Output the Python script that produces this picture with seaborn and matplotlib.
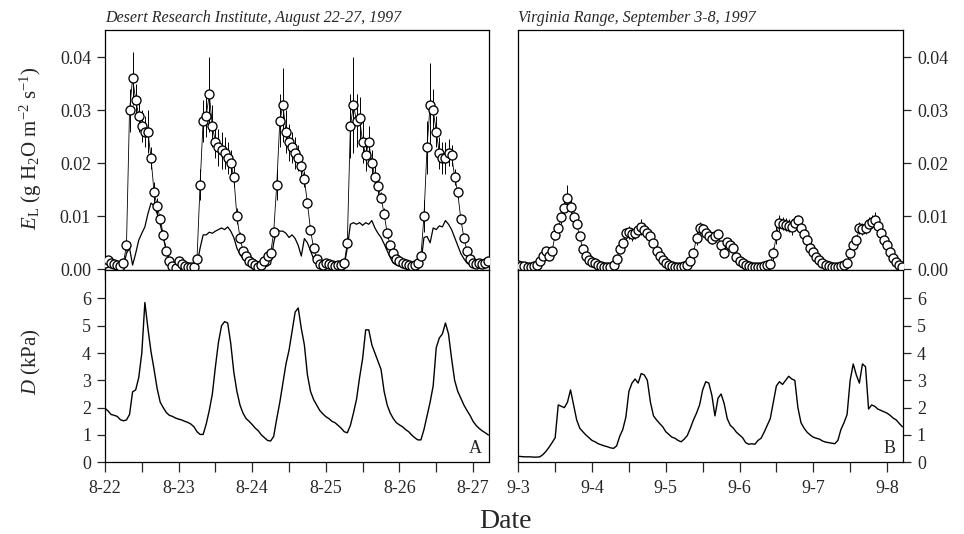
import numpy as np
import pandas as pd
import matplotlib
matplotlib.use("Agg")
import matplotlib.pyplot as plt
import seaborn as sns

# ---------------- data (hourly readings, hour 0 = midnight of first date) ----------------
hours = list(range(126))

# Panel A: Desert Research Institute, Aug 22-27, 1997
el_a = [0.0012, 0.0018, 0.0012, 0.0010, 0.0008, 0.0006, 0.0012, 0.0045, 0.030, 0.036, 0.032, 0.029,
        0.027, 0.026, 0.026, 0.021, 0.0145, 0.012, 0.0095, 0.0065, 0.0035, 0.0015, 0.0006, 0.0003,
        0.0015, 0.0010, 0.0006, 0.0005, 0.0005, 0.0004, 0.002, 0.016, 0.028, 0.029, 0.033, 0.027,
        0.024, 0.023, 0.0225, 0.022, 0.021, 0.020, 0.0175, 0.010, 0.006, 0.0035, 0.0025, 0.0015,
        0.0012, 0.0008, 0.0005, 0.0008, 0.0015, 0.0025, 0.003, 0.007, 0.016, 0.028, 0.031, 0.026,
        0.024, 0.023, 0.022, 0.021, 0.0195, 0.017, 0.0125, 0.0075, 0.004, 0.002, 0.001, 0.0008,
        0.0012, 0.0010, 0.0008, 0.0006, 0.0008, 0.0008, 0.0012, 0.005, 0.027, 0.031, 0.028, 0.0285,
        0.024, 0.0215, 0.024, 0.020, 0.0175, 0.0158, 0.0135, 0.0105, 0.0068, 0.0045, 0.003, 0.002,
        0.0015, 0.0012, 0.0010, 0.0008, 0.0006, 0.0008, 0.0012, 0.0025, 0.010, 0.023, 0.031, 0.030,
        0.026, 0.022, 0.021, 0.021, 0.022, 0.0215, 0.0175, 0.0145, 0.0095, 0.006, 0.0035, 0.002,
        0.0012, 0.0010, 0.0012, 0.0010, 0.0012, 0.0015]
el_a_err = [0.0003] * 7 + [0.001, 0.004, 0.005, 0.003, 0.003, 0.003, 0.003, 0.004, 0.002, 0.002,
            0.0015, 0.001, 0.001, 0.0008, 0.0005, 0.0003, 0.0003] + \
           [0.0003] * 6 + [0.0005, 0.003, 0.004, 0.004, 0.007, 0.004, 0.003, 0.0035, 0.0035, 0.003,
            0.003, 0.0025, 0.002, 0.0015, 0.001, 0.0008, 0.0005, 0.0003] + \
           [0.0003] * 6 + [0.0005, 0.001, 0.003, 0.005, 0.007, 0.004, 0.0035, 0.003, 0.003, 0.0025,
            0.002, 0.0015, 0.001, 0.0008, 0.0005, 0.0003, 0.0003, 0.0003] + \
           [0.0003] * 7 + [0.001, 0.006, 0.009, 0.005, 0.004, 0.004, 0.003, 0.003, 0.0025, 0.002,
            0.0015, 0.001, 0.001, 0.0008, 0.0005, 0.0003, 0.0003] + \
           [0.0003] * 7 + [0.0008, 0.003, 0.005, 0.008, 0.004, 0.003, 0.003, 0.003, 0.003, 0.0025,
            0.002, 0.0015, 0.001, 0.0008, 0.0005, 0.0003, 0.0003] + [0.0003] * 6
low_a = [0.0005] * 7 + [0.003, 0.004, 0.0008, 0.003, 0.0055, 0.0068, 0.008, 0.0105, 0.0125, 0.012,
         0.0105, 0.0085, 0.006, 0.0035, 0.0018, 0.001, 0.0008] + \
        [0.0006, 0.0005, 0.0005, 0.0005, 0.0005, 0.0005, 0.0008, 0.004, 0.0065, 0.0065, 0.007, 0.0068,
         0.0072, 0.0075, 0.0078, 0.0075, 0.008, 0.0072, 0.006, 0.004, 0.0028, 0.002, 0.0015, 0.001] + \
        [0.0006, 0.0005, 0.0005, 0.0005, 0.0005, 0.0006, 0.001, 0.005, 0.0075, 0.0072, 0.0072, 0.0068,
         0.006, 0.0065, 0.0058, 0.0045, 0.0025, 0.0058, 0.005, 0.0035, 0.002, 0.001, 0.0005, 0.0004] + \
        [0.0006, 0.0005, 0.0005, 0.0005, 0.0005, 0.0005, 0.0008, 0.004, 0.0085, 0.0088, 0.0085, 0.0088,
         0.0083, 0.0088, 0.0085, 0.0092, 0.0078, 0.0068, 0.006, 0.0048, 0.0035, 0.0022, 0.0012, 0.0008] + \
        [0.0006, 0.0005, 0.0005, 0.0005, 0.0005, 0.0005, 0.0006, 0.0012, 0.006, 0.0062, 0.005, 0.0078,
         0.0075, 0.0082, 0.008, 0.0092, 0.0085, 0.0075, 0.006, 0.0045, 0.003, 0.002, 0.0012, 0.0008] + \
        [0.0006, 0.0005, 0.0005, 0.0005, 0.0005, 0.0006]
d_a = [1.98, 1.88, 1.75, 1.72, 1.68, 1.56, 1.52, 1.55, 1.75, 2.58, 2.65, 3.1, 4.0, 5.85, 4.9, 4.05,
       3.4, 2.7, 2.2, 2.0, 1.82, 1.72, 1.68, 1.62,
       1.58, 1.55, 1.5, 1.46, 1.4, 1.3, 1.12, 1.02, 1.02, 1.4, 1.9, 2.5, 3.5, 4.4, 5.0, 5.15,
       5.1, 4.35, 3.3, 2.6, 2.1, 1.8, 1.6, 1.5,
       1.38, 1.25, 1.15, 1.0, 0.9, 0.8, 0.78, 0.95, 1.6, 2.2, 2.9, 3.6, 4.1, 4.8, 5.5, 5.65,
       4.9, 4.3, 3.2, 2.6, 2.3, 2.1, 1.9, 1.78,
       1.67, 1.6, 1.5, 1.45, 1.35, 1.25, 1.12, 1.08, 1.35, 1.8, 2.3, 3.1, 3.8, 4.85, 4.85, 4.3,
       4.0, 3.7, 3.4, 2.6, 2.1, 1.8, 1.6, 1.45,
       1.37, 1.3, 1.2, 1.12, 1.0, 0.9, 0.82, 0.82, 1.2, 1.7, 2.2, 2.8, 4.2, 4.55, 4.7, 5.1,
       4.7, 3.8, 3.0, 2.6, 2.35, 2.1, 1.9, 1.72,
       1.5, 1.35, 1.24, 1.15, 1.08, 1.0]

# Panel B: Virginia Range, Sep 3-8, 1997
el_b = [0.0008, 0.0007, 0.0006, 0.0005, 0.0005, 0.0006, 0.0008, 0.0015, 0.0025, 0.0035, 0.0025, 0.0035,
        0.0065, 0.0078, 0.0098, 0.0115, 0.0135, 0.0118, 0.0098, 0.0085, 0.0062, 0.0038, 0.0025, 0.0018,
        0.0014, 0.0012, 0.0008, 0.0006, 0.0005, 0.0005, 0.0005, 0.0008, 0.002, 0.0038, 0.005, 0.0068,
        0.007, 0.0066, 0.0068, 0.0075, 0.008, 0.0075, 0.0068, 0.0062, 0.005, 0.0034, 0.0025, 0.0018,
        0.0012, 0.0008, 0.0006, 0.0005, 0.0005, 0.0005, 0.0006, 0.0008, 0.0015, 0.003, 0.006, 0.0078,
        0.0076, 0.0068, 0.0062, 0.0058, 0.0062, 0.0066, 0.0045, 0.003, 0.0052, 0.0045, 0.004, 0.0024,
        0.0015, 0.0011, 0.0008, 0.0006, 0.0005, 0.0005, 0.0005, 0.0005, 0.0006, 0.0008, 0.001, 0.003,
        0.0065, 0.0087, 0.0086, 0.0084, 0.0082, 0.008, 0.0088, 0.0093, 0.0078, 0.0066, 0.0055, 0.004,
        0.0033, 0.0024, 0.0018, 0.0012, 0.0008, 0.0006, 0.0005, 0.0005, 0.0005, 0.0006, 0.0008, 0.0011,
        0.003, 0.0045, 0.0055, 0.0078, 0.0076, 0.0078, 0.0086, 0.009, 0.0093, 0.0082, 0.0068, 0.0055,
        0.0045, 0.0033, 0.0022, 0.0014, 0.0008, 0.0005]
el_b_err = [0.0003] * 8 + [0.0006, 0.0008, 0.0008, 0.0008, 0.001, 0.001, 0.0012, 0.0015, 0.0025,
            0.0012, 0.001, 0.0008, 0.0006, 0.0005, 0.0004, 0.0003] + \
           [0.0003] * 8 + [0.0006, 0.0008, 0.0008, 0.001, 0.0012, 0.0012, 0.001, 0.0012, 0.0015,
            0.0012, 0.001, 0.0008, 0.0006, 0.0005, 0.0004, 0.0003] + \
           [0.0003] * 8 + [0.0006, 0.001, 0.0015, 0.0012, 0.001, 0.001, 0.001, 0.001, 0.001,
            0.0008, 0.0008, 0.0006, 0.0005, 0.0004, 0.0003, 0.0003] + \
           [0.0003] * 10 + [0.0008, 0.0012, 0.0018, 0.0015, 0.0012, 0.0012, 0.0012, 0.0015, 0.0012,
            0.001, 0.0008, 0.0006, 0.0004, 0.0003] + \
           [0.0003] * 12 + [0.0008, 0.001, 0.001, 0.0012, 0.0012, 0.0012, 0.0012, 0.0012, 0.0015,
            0.001, 0.0008, 0.0006] + [0.0004, 0.0004, 0.0003, 0.0003, 0.0003, 0.0003]
d_b = [0.22, 0.21, 0.2, 0.2, 0.2, 0.19, 0.19, 0.2, 0.28, 0.4, 0.55, 0.72, 0.9, 2.1, 2.05, 2.0,
       2.2, 2.65, 2.1, 1.55, 1.25, 1.12, 1.0, 0.9,
       0.8, 0.75, 0.68, 0.64, 0.6, 0.57, 0.53, 0.51, 0.6, 0.95, 1.2, 1.65, 2.6, 2.9, 3.05, 2.9,
       3.25, 3.2, 3.0, 2.2, 1.7, 1.55, 1.42, 1.3,
       1.12, 1.02, 0.92, 0.88, 0.8, 0.75, 0.85, 0.98, 1.25, 1.55, 1.8, 2.1, 2.65, 2.95, 2.9, 2.45,
       1.7, 2.35, 2.5, 2.15, 1.6, 1.35, 1.25, 1.1,
       1.0, 0.9, 0.72, 0.66, 0.68, 0.66, 0.8, 0.88, 1.1, 1.35, 1.6, 2.2, 2.8, 2.95, 2.85, 3.0,
       3.15, 3.05, 3.0, 2.0, 1.45, 1.25, 1.1, 1.0,
       0.92, 0.88, 0.85, 0.78, 0.74, 0.72, 0.7, 0.68, 0.8, 1.2, 1.45, 1.75, 3.0, 3.6, 3.2, 2.9,
       3.6, 3.5, 1.95, 2.1, 2.05, 1.95, 1.9, 1.85,
       1.8, 1.72, 1.62, 1.55, 1.42, 1.3]

labels_a = ["8-22", "8-23", "8-24", "8-25", "8-26", "8-27"]
labels_b = ["9-3", "9-4", "9-5", "9-6", "9-7", "9-8"]
el_ticks = [0.00, 0.01, 0.02, 0.03, 0.04]
d_ticks = [0, 1, 2, 3, 4, 5, 6]

# ---------------- style ----------------
sns.set_style("ticks")
plt.rcParams["font.family"] = ["Liberation Serif", "DejaVu Serif"]
plt.rcParams["mathtext.fontset"] = "custom"
plt.rcParams["mathtext.rm"] = "Liberation Serif"
plt.rcParams["mathtext.it"] = "Liberation Serif:italic"
plt.rcParams["axes.linewidth"] = 0.9

W, H = 964, 534
fig = plt.figure(figsize=(W / 100, H / 100), dpi=100)


def frac(x0, y0, x1, y1):
    return [x0 / W, 1 - y1 / H, (x1 - x0) / W, (y1 - y0) / H]


ax_ta = fig.add_axes(frac(105, 30, 489, 270))
ax_ba = fig.add_axes(frac(105, 270, 489, 462.3))
ax_tb = fig.add_axes(frac(518.3, 30, 903, 270))
ax_bb = fig.add_axes(frac(518.3, 270, 903, 462.3))

XMAX = 125.2
TICKFS = 13


def style_axis(ax, right=False, ticks=None, fmt="{:.2f}", ylim=None, xlabels=None):
    ax.set_xlim(0, XMAX)
    ax.set_ylim(*ylim)
    ax.set_xticks(np.arange(0, 126, 24))
    ax.set_xticks(np.arange(12, 126, 24), minor=True)
    if xlabels is None:
        ax.set_xticklabels([])
    else:
        ax.set_xticklabels(xlabels, fontsize=TICKFS)
    ax.set_yticks(ticks)
    ax.set_yticklabels([fmt.format(t) for t in ticks], fontsize=TICKFS)
    ax.tick_params(axis="x", which="both", direction="out", length=7, width=0.9, pad=6)
    ax.tick_params(axis="y", which="both", direction="out", length=6, width=0.9, pad=4)
    if right:
        ax.yaxis.tick_right()
    for s in ax.spines.values():
        s.set_visible(True)
        s.set_color("black")
        s.set_linewidth(0.9)
    ax.set_xlabel("")
    ax.set_ylabel("")


for ax, el, err, low in [(ax_ta, el_a, el_a_err, low_a), (ax_tb, el_b, el_b_err, None)]:
    ax.errorbar(hours, el, yerr=err, fmt="none", ecolor="black", elinewidth=0.7, zorder=2)
    if low is not None:
        sns.lineplot(x=hours, y=low, ax=ax, color="black", linewidth=0.9, zorder=3)
    sns.lineplot(x=hours, y=el, ax=ax, color="black", linewidth=0.6, marker="o",
                 markersize=6.5, markerfacecolor="white", markeredgecolor="black",
                 markeredgewidth=0.95, zorder=4)

sns.lineplot(x=hours, y=d_a, ax=ax_ba, color="black", linewidth=1.0)
sns.lineplot(x=hours, y=d_b, ax=ax_bb, color="black", linewidth=1.0)

style_axis(ax_ta, ticks=el_ticks, ylim=(-0.00013, 0.04515))
style_axis(ax_tb, right=True, ticks=el_ticks, ylim=(-0.00013, 0.04515))
style_axis(ax_ba, ticks=d_ticks, fmt="{:d}", ylim=(0, 7.04), xlabels=labels_a)
style_axis(ax_bb, right=True, ticks=d_ticks, fmt="{:d}", ylim=(0, 7.04), xlabels=labels_b)

ax_ba.text(0.965, 0.025, "A", transform=ax_ba.transAxes, fontsize=13, ha="center", va="bottom")
ax_bb.text(0.965, 0.025, "B", transform=ax_bb.transAxes, fontsize=13, ha="center", va="bottom")

fig.text(105 / W, 1 - 18 / H, "Desert Research Institute, August 22-27, 1997",
         style="italic", fontsize=11.5, ha="left", va="center")
fig.text(518 / W, 1 - 18 / H, "Virginia Range, September 3-8, 1997",
         style="italic", fontsize=11.5, ha="left", va="center")
fig.text(505 / W, 1 - 521 / H, "Date", fontsize=20, ha="center", va="center")
fig.text(31 / W, 1 - 148 / H, r"$E_{\mathrm{L}}$ (g H$_2$O m$^{-2}$ s$^{-1}$)",
         fontsize=15, rotation=90, ha="center", va="center")
fig.text(31 / W, 1 - 362 / H, r"$D$ (kPa)", fontsize=15, rotation=90, ha="center", va="center")

fig.savefig("out.png", dpi=100)
